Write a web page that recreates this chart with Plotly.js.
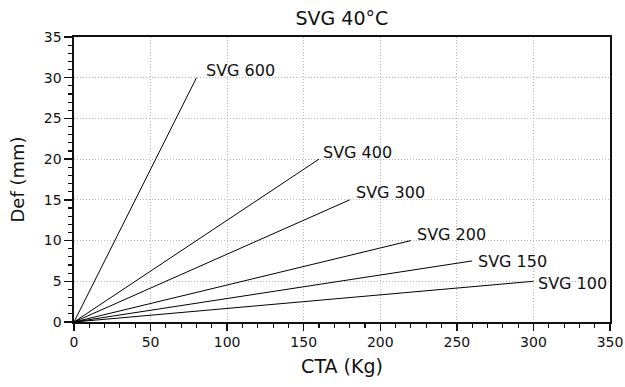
<!DOCTYPE html>
<html>
<head>
<meta charset="utf-8">
<script src="https://cdn.plot.ly/plotly-3.0.1.min.js"></script>
<style>html,body{margin:0;padding:0;background:#fff;}#chart{width:625px;height:387px;}</style>
</head>
<body>
<div id="chart"></div>
<script>
const seriesNames = ['SVG 100', 'SVG 150', 'SVG 200', 'SVG 300', 'SVG 400', 'SVG 600'];
const ctaValues = [[0, 300], [0, 260], [0, 220], [0, 180], [0, 160], [0, 80]];
const defValues = [[0, 5], [0, 7.5], [0, 10], [0, 15], [0, 20], [0, 30]];
const xTicks = [0, 50, 100, 150, 200, 250, 300, 350];
const yTicks = [0, 5, 10, 15, 20, 25, 30, 35];

// label placement offsets (px)
const labelShiftX = [3, 4, 4, 4, 2, 7];
const labelShiftY = [-2, -1, 6, 7, 7, 7];

const font = 'DejaVu Sans, Verdana, sans-serif';

const traces = seriesNames.map((n, i) => ({
  type: 'scatter', mode: 'lines', name: n,
  x: ctaValues[i], y: defValues[i],
  line: {color: '#000', width: 1},
  hoverinfo: 'skip'
}));

const annotations = seriesNames.map((n, i) => ({
  x: ctaValues[i][ctaValues[i].length - 1],
  y: defValues[i][defValues[i].length - 1],
  xref: 'x', yref: 'y', text: n, showarrow: false,
  xanchor: 'left', yanchor: 'middle',
  xshift: labelShiftX[i], yshift: labelShiftY[i],
  font: {family: font, size: 16, color: '#111'}
}));

const axisCommon = {
  showline: true, linecolor: '#111', linewidth: 1.6, mirror: true,
  ticks: 'outside', tickcolor: '#111', tickwidth: 1.3,
  showgrid: true, gridcolor: '#b8b8b8', gridwidth: 1, griddash: '1px,2px',
  zeroline: false,
  tickfont: {family: font, size: 14, color: '#111'}
};

const layout = {
  width: 625, height: 387,
  margin: {l: 74, r: 15, t: 37, b: 65},
  paper_bgcolor: '#fff', plot_bgcolor: '#fff',
  showlegend: false,
  title: {text: 'SVG 40°C', font: {family: font, size: 19, color: '#111'}, x: 0.547, xanchor: 'center', y: 0.953, yanchor: 'middle'},
  xaxis: Object.assign({}, axisCommon, {
    range: [0, 350], tickvals: xTicks, ticktext: xTicks.map(String), ticklen: 7,
    minor: {dtick: 10, ticks: 'outside', ticklen: 4, tickcolor: '#111', tickwidth: 1.1, showgrid: false},
    title: {text: 'CTA (Kg)', font: {family: font, size: 19, color: '#111'}, standoff: 10}
  }),
  yaxis: Object.assign({}, axisCommon, {
    range: [0, 35], tickvals: yTicks, ticktext: yTicks.map(String), ticklen: 8,
    minor: {dtick: 1, ticks: 'outside', ticklen: 4, tickcolor: '#111', tickwidth: 1.1, showgrid: false},
    title: {text: 'Def (mm)', font: {family: font, size: 18, color: '#111'}, standoff: 14}
  }),
  annotations: annotations
};

Plotly.newPlot('chart', traces, layout, {displayModeBar: false, staticPlot: true});
</script>
</body>
</html>
